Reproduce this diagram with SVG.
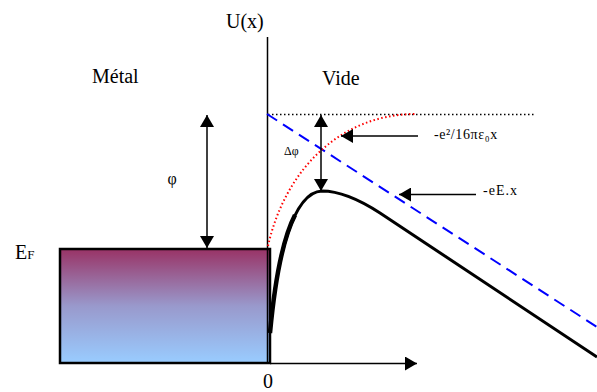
<svg xmlns="http://www.w3.org/2000/svg" width="597" height="392" viewBox="0 0 597 392">
<defs>
<linearGradient id="metal" x1="0" y1="0" x2="0" y2="1">
<stop offset="0" stop-color="#993366"/>
<stop offset="0.5" stop-color="#9999CC"/>
<stop offset="1" stop-color="#99CCFF"/>
</linearGradient>
<marker id="ah" viewBox="0 0 12 14" refX="12" refY="7" markerWidth="12" markerHeight="14" markerUnits="userSpaceOnUse" orient="auto-start-reverse">
<path d="M0,0 L12,7 L0,14 Z" fill="#000"/>
</marker>
</defs>
<style>
.big{font-size:20px}
.sm{font-size:14px}
.ln{stroke:#000;stroke-width:1.5;fill:none}
</style>
<rect width="597" height="392" fill="#fff"/>
<g id="metal-block">
<rect x="60" y="249" width="210" height="114" fill="url(#metal)" stroke="#000" stroke-width="2.5"/>
</g>
<g id="connectors">
<line class="ln" x1="267.5" y1="37" x2="267.5" y2="363"/>
<line class="ln" x1="270" y1="363.5" x2="417" y2="363.5" marker-end="url(#ah)"/>
<line x1="268" y1="114.5" x2="536" y2="114.5" stroke="#000" stroke-width="1.5" stroke-dasharray="1.5,2.5"/>
<line x1="267" y1="114" x2="597" y2="327" stroke="#0000FF" stroke-width="2" stroke-dasharray="12,7"/>
<path d="M268,246 C285,170 340,114 416,114" fill="none" stroke="#FF0000" stroke-width="2" stroke-dasharray="1.5,2.5"/>
<path d="M270,333 C276,262 292,192 322,191 C340,191 360,200 380,213 L597,357" fill="none" stroke="#000" stroke-width="3"/>
<path d="M270,333 C274,290 282,240 295,215" fill="none" stroke="#000" stroke-width="4.5"/>
<line class="ln" x1="207" y1="115" x2="207" y2="248" marker-start="url(#ah)" marker-end="url(#ah)"/>
<line class="ln" x1="321" y1="115" x2="321" y2="191" marker-start="url(#ah)" marker-end="url(#ah)"/>
<line class="ln" x1="418" y1="136" x2="341" y2="136" marker-end="url(#ah)"/>
<line class="ln" x1="476" y1="194.5" x2="399" y2="194.5" marker-end="url(#ah)"/>
</g>
<g id="labels" font-family="'Liberation Serif', 'DejaVu Serif', serif" fill="#000">
<text class="big" x="226" y="28">U(x)</text>
<text class="big" x="322" y="85">Vide</text>
<text class="big" x="92" y="83">Métal</text>
<text class="big" x="15" y="259">E<tspan font-size="13">F</tspan></text>
<text class="big" x="268" y="388" text-anchor="middle">0</text>
<text x="172" y="184" font-size="16" text-anchor="middle">φ</text>
<text x="284" y="155" font-size="12">Δφ</text>
<text class="sm" x="434" y="139" letter-spacing="0.6">-e²/16πε₀x</text>
<text class="sm" x="483" y="195" letter-spacing="1">-eE.x</text>
</g>
</svg>
